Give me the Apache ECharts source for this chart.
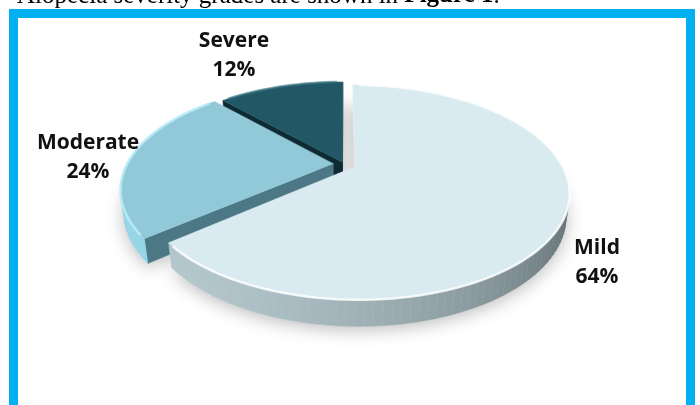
<!DOCTYPE html>
<html><head><meta charset="utf-8">
<script src="https://cdn.jsdelivr.net/npm/echarts@6/dist/echarts.min.js"></script>
<style>html,body{margin:0;padding:0;background:#fff}#c{width:700px;height:405px}</style>
</head><body><div id="c"></div>
<script>
// ---- data ----
const categories = ['Mild', 'Moderate', 'Severe'];
const values = [64, 24, 12];

// ---- view / style ----
const view = { cx: 344, cy: 164, fx: 765, fy: 790, sinA: 0.47, D: 3.71, t: 0.12 };
const explode = [0.06, 0.052, 0.02];
const palette = [
  { top: '#d9eaf0', rim: 'rgba(255,255,255,0.8)', sideLight: '#b3c6cb', sideDark: '#475356', cut: '#e6ecee' },
  { top: '#91c9d9', rim: 'rgba(185,235,248,0.9)', sideLight: '#95d5e6', sideDark: '#3b6c78', cut: '#4b7884' },
  { top: '#225866', rim: 'rgba(60,120,135,0.6)', sideLight: '#2b6a7a', sideDark: '#0c2730', cut: '#0e2a33' }
];
const labelAt = [[597, 263], [88, 158], [234, 56]];

const cosA = Math.sqrt(1 - view.sinA * view.sinA);
const cam = [0, view.D * view.sinA, view.D * cosA];
function proj(X, Y, Z) {
  const n = Z * cosA + Y * view.sinA;
  const d = view.D - n;
  const yc = Y * cosA - Z * view.sinA;
  return [view.cx + view.fx * X / d, view.cy - view.fy * yc / d];
}
function dist(P) {
  const dx = P[0] - cam[0], dy = P[1] - cam[1], dz = P[2] - cam[2];
  return Math.sqrt(dx * dx + dy * dy + dz * dz);
}
function hex2rgb(h) { return [parseInt(h.substr(1, 2), 16), parseInt(h.substr(3, 2), 16), parseInt(h.substr(5, 2), 16)]; }
function lerpColor(a, b, t) {
  const A = hex2rgb(a), B = hex2rgb(b);
  return 'rgb(' + A.map((x, k) => Math.round(x + (B[k] - x) * t)).join(',') + ')';
}
const L = (function () { const v = [-0.77, 0, 0.64]; const m = Math.hypot(v[0], v[1], v[2]); return v.map(x => x / m); })();

const total = values.reduce((a, b) => a + b, 0);
const starts = []; { let acc = 0; values.forEach(v => { starts.push(acc); acc += v; }); }

function renderSlice(params, api) {
  const i = params.dataIndex;
  const v = api.value(1);
  const a0 = starts[i] / total * 2 * Math.PI;
  const a1 = a0 + v / total * 2 * Math.PI;
  const am = (a0 + a1) / 2;
  const ox = explode[i] * Math.sin(am), oz = -explode[i] * Math.cos(am);
  const t = view.t;
  const pal = palette[i];
  const N = Math.max(2, Math.ceil((a1 - a0) / (Math.PI / 90)));
  const rimTop = [], rimBot = [], rim3 = [];
  for (let k = 0; k <= N; k++) {
    const th = a0 + (a1 - a0) * k / N;
    const X = ox + Math.sin(th), Z = oz - Math.cos(th);
    rim3.push([X, Z, th]);
    rimTop.push(proj(X, 0, Z));
    rimBot.push(proj(X, -t, Z));
  }
  const cTop = proj(ox, 0, oz), cBot = proj(ox, -t, oz);
  const children = [];
  children.push({
    type: 'polygon', shape: { points: [cBot].concat(rimBot) },
    style: { fill: '#ffffff', shadowBlur: 18, shadowColor: 'rgba(0,0,0,0.28)', shadowOffsetY: 3 },
    z2: -100
  });
  for (let k = 0; k < N; k++) {
    const thm = (rim3[k][2] + rim3[k + 1][2]) / 2;
    const nx = Math.sin(thm), nz = -Math.cos(thm);
    const P = [(rim3[k][0] + rim3[k + 1][0]) / 2, -t / 2, (rim3[k][1] + rim3[k + 1][1]) / 2];
    const vis = nx * (cam[0] - P[0]) + nz * (cam[2] - P[2]);
    if (vis <= 0) continue;
    const dl = nx * L[0] + nz * L[2];
    const col = lerpColor(pal.sideLight, pal.sideDark, (1 - dl) / 2);
    children.push({
      type: 'polygon',
      shape: { points: [rimTop[k], rimTop[k + 1], rimBot[k + 1], rimBot[k]] },
      style: { fill: col, stroke: col, lineWidth: 0.6 },
      z2: 100 - dist(P) * 10
    });
  }
  const faces = [
    { th: a0, n: [-Math.cos(a0), -Math.sin(a0)], top: rimTop[0], bot: rimBot[0] },
    { th: a1, n: [Math.cos(a1), Math.sin(a1)], top: rimTop[N], bot: rimBot[N] }
  ];
  faces.forEach(fc => {
    const P = [ox + Math.sin(fc.th) / 2, -t / 2, oz - Math.cos(fc.th) / 2];
    const vis = fc.n[0] * (cam[0] - P[0]) + fc.n[1] * (cam[2] - P[2]);
    if (vis <= 0) return;
    children.push({
      type: 'polygon', shape: { points: [cTop, fc.top, fc.bot, cBot] },
      style: { fill: pal.cut, stroke: pal.cut, lineWidth: 0.5 },
      z2: 100 - dist(P) * 10
    });
  });
  children.push({
    type: 'polygon', shape: { points: [cTop].concat(rimTop) },
    style: { fill: pal.top, stroke: pal.top, lineWidth: 0.5 }, z2: 1000
  });
  children.push({
    type: 'polyline', shape: { points: rimTop.slice(1, -1) },
    style: { fill: null, stroke: pal.rim, lineWidth: 2.5 }, z2: 1001
  });
  children.push({
    type: 'text', z2: 2000,
    style: {
      text: categories[i] + '\n' + v + '%',
      x: labelAt[i][0], y: labelAt[i][1], align: 'center', verticalAlign: 'middle',
      font: 'bold 21px "Open Sans"', lineHeight: 29, fill: '#111'
    }
  });
  return { type: 'group', children: children };
}

const chart = echarts.init(document.getElementById('c'));
chart.setOption({
  animation: false,
  backgroundColor: '#ffffff',
  graphic: [
    { type: 'rect', z: -20, shape: { x: 13.5, y: 13.5, width: 677, height: 500 },
      style: { fill: '#ffffff', stroke: '#00b0f0', lineWidth: 9 } },
    { type: 'text', z: -10, x: 17, y: -4,
      style: {
        text: '{a|Alopecia severity grades are shown in }{b|Figure 1}{a|.}',
        verticalAlign: 'middle', fill: '#000',
        rich: { a: { font: '25px "Liberation Serif"', fill: '#000' }, b: { font: 'bold 25px "Liberation Serif"', fill: '#000' } }
      } }
  ],
  series: [{
    type: 'custom', coordinateSystem: 'none', renderItem: renderSlice,
    data: categories.map((c, i) => [i, values[i]])
  }]
});
</script></body></html>
